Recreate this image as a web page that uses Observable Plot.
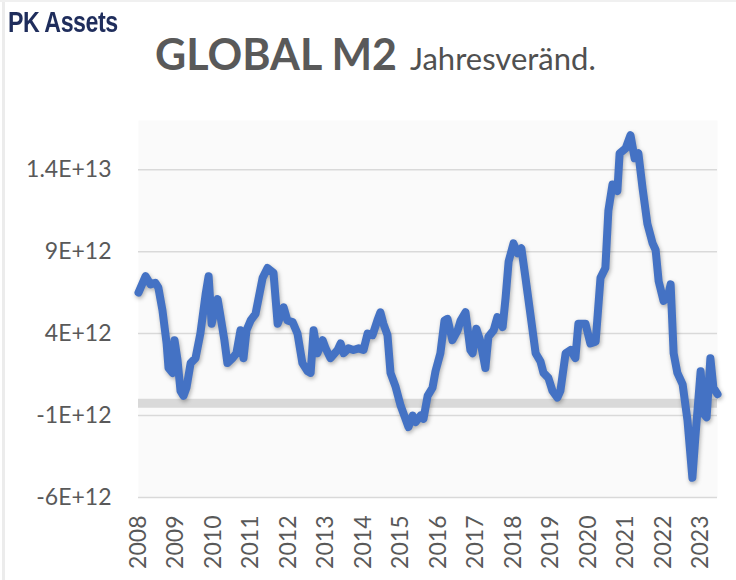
<!DOCTYPE html>
<html>
<head>
<meta charset="utf-8">
<script src="https://cdn.jsdelivr.net/npm/d3@7"></script>
<script src="https://cdn.jsdelivr.net/npm/@observablehq/plot@0.6"></script>
<style>
  html, body { margin: 0; padding: 0; background: #ffffff; }
  #wrap { position: relative; width: 736px; height: 580px; overflow: hidden; background: #fff; }
  #edgeL { position: absolute; left: 2px; top: 0; width: 3px; height: 580px; background: #ececec; }
  #edgeT { position: absolute; left: 0; top: 0; width: 736px; height: 2px; background: #f0f0f0; }
  #brand { position: absolute; left: 8px; top: 8px; font-family: "Liberation Sans", "DejaVu Sans", sans-serif; font-weight: bold; font-size: 29px; line-height: 1; color: #1f2d5c; letter-spacing: -0.6px; transform: scaleX(0.8); transform-origin: left top; white-space: nowrap; }
  #title { position: absolute; left: 155px; top: 32px; font-family: Lato, sans-serif; color: #595959; line-height: 1; white-space: nowrap; }
  #title .main { font-weight: bold; font-size: 43px; }
  #title .sub { font-weight: normal; font-size: 31px; margin-left: 13px; color: #505050; }
  #chart { position: absolute; left: 0; top: 0; }
</style>
</head>
<body>
<div id="wrap">
  <div id="chart"></div>
  <div id="edgeL"></div>
  <div id="edgeT"></div>
  <div id="brand">PK Assets</div>
  <div id="title"><span class="main">GLOBAL M2</span><span class="sub">Jahresveränd.</span></div>
</div>
<script>
// Decimal year of each reading
const time = [
  2008.00, 2008.19, 2008.32, 2008.45, 2008.53, 2008.64, 2008.75, 2008.80, 2008.91, 2008.96,
  2009.04, 2009.12, 2009.20, 2009.28, 2009.39, 2009.52, 2009.65, 2009.79, 2009.87, 2009.95,
  2010.03, 2010.11, 2010.19, 2010.29, 2010.37, 2010.51, 2010.61, 2010.72, 2010.80, 2010.88, 2010.99,
  2011.12, 2011.31, 2011.44, 2011.60, 2011.71, 2011.87, 2011.97,
  2012.11, 2012.24, 2012.37, 2012.51, 2012.59, 2012.67, 2012.77, 2012.91, 2012.99,
  2013.12, 2013.31, 2013.39, 2013.47, 2013.60, 2013.73, 2013.87,
  2014.00, 2014.11, 2014.24, 2014.37, 2014.45, 2014.53, 2014.64, 2014.72, 2014.85, 2014.99,
  2015.12, 2015.20, 2015.31, 2015.39, 2015.52, 2015.60, 2015.71, 2015.84, 2015.92,
  2016.05, 2016.16, 2016.24, 2016.37, 2016.51, 2016.59, 2016.72, 2016.85, 2016.91,
  2017.01, 2017.12, 2017.25, 2017.33, 2017.47, 2017.57, 2017.71, 2017.79, 2017.87,
  2018.00, 2018.11, 2018.21, 2018.32, 2018.45, 2018.59, 2018.72, 2018.80, 2018.93,
  2019.04, 2019.17, 2019.25, 2019.39, 2019.52, 2019.65, 2019.73, 2019.92,
  2020.05, 2020.19, 2020.32, 2020.45, 2020.53, 2020.64, 2020.77, 2020.83, 2020.99,
  2021.12, 2021.23, 2021.33, 2021.44, 2021.57, 2021.71, 2021.79, 2021.87,
  2022.00, 2022.11, 2022.19, 2022.27, 2022.37, 2022.51, 2022.64, 2022.77, 2022.85, 2022.99,
  2023.07, 2023.15, 2023.25, 2023.33, 2023.44
];
// Year-on-year change of global M2, in units of 1E+12
const m2Change = [
  6.5, 7.5, 7.0, 7.1, 6.8, 5.4, 3.4, 1.9, 1.6, 3.6,
  2.4, 0.5, 0.2, 0.7, 2.2, 2.5, 4.0, 6.4, 7.5, 4.6,
  5.4, 6.1, 5.0, 3.6, 2.2, 2.5, 2.8, 4.2, 2.5, 4.2, 4.8,
  5.2, 7.4, 8.0, 7.7, 4.6, 5.6, 4.8,
  4.7, 4.0, 2.2, 1.7, 1.6, 4.2, 2.8, 3.6, 3.1,
  2.5, 3.0, 3.4, 2.8, 3.1, 3.0, 3.1,
  3.0, 4.0, 3.9, 4.8, 5.3, 4.6, 3.9, 1.6, 0.8, -0.4,
  -1.2, -1.7, -1.0, -1.4, -1.0, -1.2, 0.2, 0.7, 1.7,
  2.8, 4.8, 4.9, 3.6, 4.2, 4.8, 5.3, 3.0, 2.8,
  4.3, 3.5, 1.9, 3.8, 4.2, 5.0, 4.4, 6.2, 8.4,
  9.5, 8.9, 9.2, 7.4, 5.2, 2.8, 2.3, 1.6, 1.3,
  0.5, 0.1, 0.5, 2.8, 3.0, 2.5, 4.6, 4.6,
  3.4, 3.5, 7.4, 8.0, 11.5, 13.1, 12.7, 15.0, 15.3,
  16.1, 14.7, 15.0, 12.9, 10.7, 9.5, 9.1, 7.2,
  6.0, 6.2, 7.0, 2.8, 1.6, 0.9, -1.3, -4.8, -2.3, 1.7,
  -0.9, -1.1, 2.5, 0.7, 0.3
];
const yearTicks = [2008, 2009, 2010, 2011, 2012, 2013, 2014, 2015, 2016, 2017, 2018, 2019, 2020, 2021, 2022, 2023];
const yearLabels = ["2008", "2009", "2010", "2011", "2012", "2013", "2014", "2015", "2016", "2017", "2018", "2019", "2020", "2021", "2022", "2023"];
const yTicks = [-6, -1, 4, 9, 14];
const yTickLabels = ["-6E+12", "-1E+12", "4E+12", "9E+12", "1.4E+13"];

const data = time.map((t, i) => ({t, v: m2Change[i]}));
const yLab = new Map(yTicks.map((d, i) => [d, yTickLabels[i]]));
const xLab = new Map(yearTicks.map((d, i) => [d, yearLabels[i]]));

const svg = Plot.plot({
  width: 736,
  height: 580,
  marginLeft: 138,
  marginRight: 19,
  marginTop: 120,
  marginBottom: 83,
  style: {fontFamily: "Lato, sans-serif", fontSize: "23px", color: "#595959", background: "transparent", overflow: "visible"},
  x: {domain: [2008, 2023.44]},
  y: {domain: [-6, 17]},
  marks: [
    Plot.frame({fill: "#fafafa", stroke: null}),
    Plot.gridY(yTicks, {stroke: "#d9d9d9", strokeOpacity: 1, strokeWidth: 1.5}),
    Plot.ruleY([0], {stroke: "#d9d9d9", strokeWidth: 9, dy: 4}),
    Plot.axisY(yTicks, {tickSize: 0, tickPadding: 27, tickFormat: d => yLab.get(d), fontSize: 23, fill: "#595959", label: null}),
    Plot.axisX(yearTicks, {tickSize: 0, tickPadding: 18, tickRotate: -90, tickFormat: d => xLab.get(d), fontSize: 23, fill: "#595959", label: null}),
    Plot.line(data, {x: "t", y: "v", stroke: "#4472c4", strokeWidth: 8, strokeLinejoin: "round", strokeLinecap: "round"})
  ]
});
svg.querySelectorAll('g[aria-label="line"] path').forEach(p => {
  p.style.filter = "drop-shadow(1px 2px 2px rgba(0,0,0,0.3))";
});
document.getElementById("chart").appendChild(svg);
</script>
</body>
</html>
